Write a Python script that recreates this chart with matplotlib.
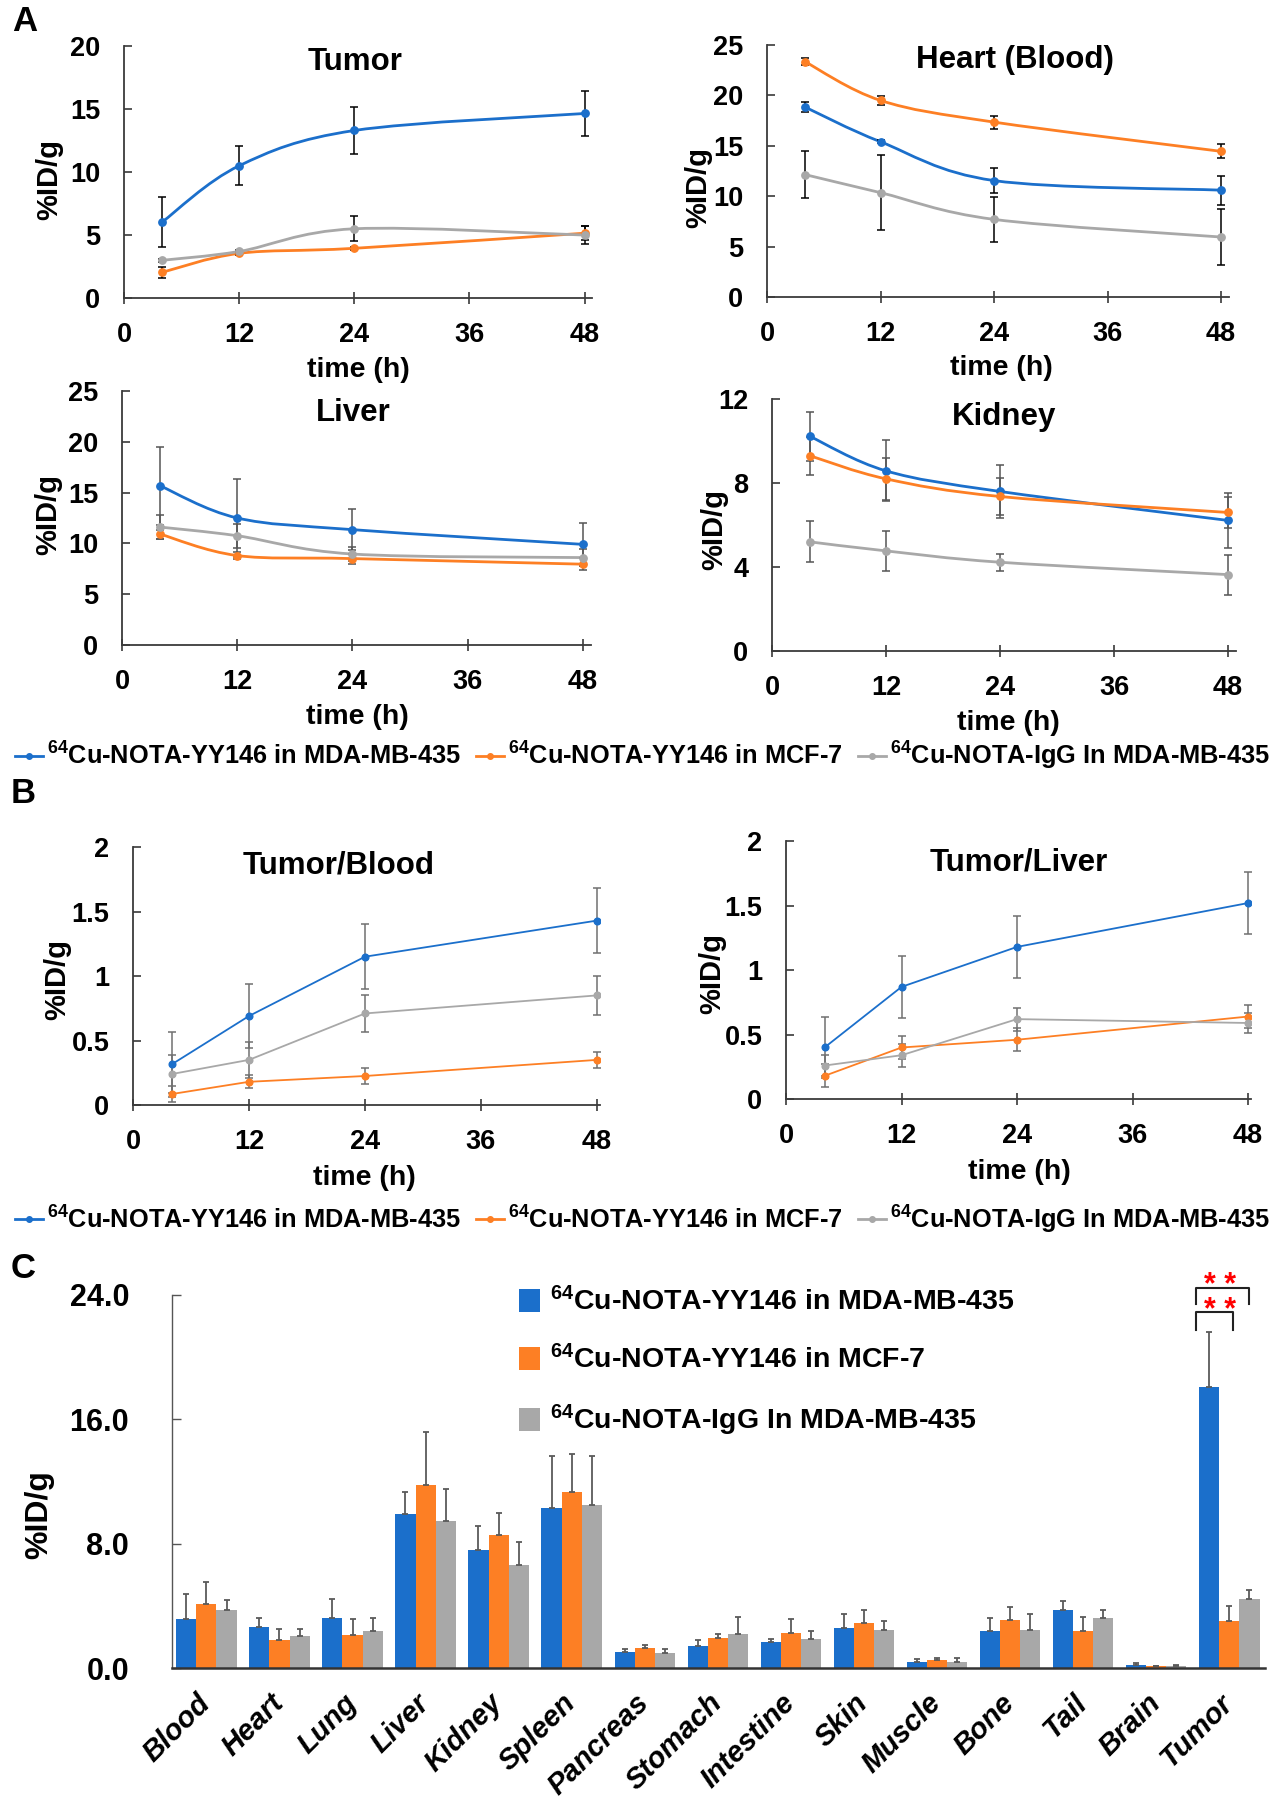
import numpy as np
import matplotlib
matplotlib.use("Agg")
import matplotlib.pyplot as plt
from matplotlib.path import Path
from matplotlib.patches import PathPatch, Patch
from matplotlib.lines import Line2D
from matplotlib.ticker import FormatStrFormatter

plt.rcParams['font.family'] = ['Liberation Sans', 'DejaVu Sans']
plt.rcParams['font.weight'] = 'bold'
plt.rcParams['mathtext.fontset'] = 'custom'
plt.rcParams['mathtext.default'] = 'bf'
plt.rcParams['mathtext.bf'] = 'Liberation Sans:bold'
plt.rcParams['mathtext.rm'] = 'Liberation Sans:bold'

# ---------------- data ----------------
hours = [4, 12, 24, 48]
series_labels = [r'$^{64}$Cu-NOTA-YY146 in MDA-MB-435',
                 r'$^{64}$Cu-NOTA-YY146 in MCF-7',
                 r'$^{64}$Cu-NOTA-IgG In MDA-MB-435']

tumor_blue = [6.05, 10.5, 13.3, 14.65]
tumor_blue_err = [2.0, 1.55, 1.85, 1.8]
tumor_orange = [2.05, 3.55, 3.95, 5.15]
tumor_orange_err = [0.45, 0.12, 0.12, 0.55]
tumor_gray = [3.0, 3.7, 5.5, 5.0]
tumor_gray_err = [0.12, 0.12, 1.0, 0.7]

heart_blue = [18.85, 15.4, 11.55, 10.6]
heart_blue_err = [0.5, 0.15, 1.25, 1.45]
heart_orange = [23.35, 19.5, 17.35, 14.45]
heart_orange_err = [0.35, 0.45, 0.65, 0.7]
heart_gray = [12.15, 10.35, 7.7, 5.95]
heart_gray_err = [2.35, 3.75, 2.25, 2.8]

liver_blue = [15.65, 12.5, 11.35, 9.9]
liver_blue_err = [3.8, 3.8, 2.05, 2.1]
liver_orange = [10.9, 8.8, 8.5, 7.95]
liver_orange_err = [0.45, 0.35, 0.5, 0.6]
liver_gray = [11.6, 10.75, 8.95, 8.6]
liver_gray_err = [1.2, 1.2, 0.7, 0.8]

kidney_blue = [10.22, 8.58, 7.6, 6.22]
kidney_blue_err = [1.15, 1.45, 1.27, 1.3]
kidney_orange = [9.3, 8.2, 7.36, 6.6]
kidney_orange_err = [0.9, 1.0, 0.9, 0.75]
kidney_gray = [5.2, 4.77, 4.23, 3.64]
kidney_gray_err = [0.97, 0.95, 0.4, 0.95]

tb_blue = [0.315, 0.69, 1.15, 1.43]
tb_blue_err = [0.25, 0.25, 0.25, 0.25]
tb_orange = [0.085, 0.18, 0.225, 0.35]
tb_orange_err = [0.06, 0.05, 0.06, 0.06]
tb_gray = [0.24, 0.35, 0.71, 0.85]
tb_gray_err = [0.15, 0.14, 0.14, 0.15]

tl_blue = [0.40, 0.87, 1.18, 1.52]
tl_blue_err = [0.24, 0.24, 0.24, 0.24]
tl_orange = [0.18, 0.40, 0.46, 0.64]
tl_orange_err = [0.09, 0.09, 0.09, 0.09]
tl_gray = [0.26, 0.34, 0.62, 0.59]
tl_gray_err = [0.08, 0.09, 0.09, 0.08]

organs = ['Blood', 'Heart', 'Lung', 'Liver', 'Kidney', 'Spleen', 'Pancreas',
          'Stomach', 'Intestine', 'Skin', 'Muscle', 'Bone', 'Tail', 'Brain', 'Tumor']
bio_blue = [3.17, 2.62, 3.24, 9.9, 7.61, 10.31, 1.05, 1.39, 1.65, 2.59, 0.39, 2.38, 3.71, 0.19, 18.06]
bio_blue_err = [1.61, 0.6, 1.22, 1.41, 1.54, 3.32, 0.2, 0.41, 0.21, 0.9, 0.21, 0.81, 0.6, 0.11, 3.54]
bio_orange = [4.14, 1.78, 2.1, 11.78, 8.55, 11.31, 1.26, 1.91, 2.27, 2.91, 0.51, 3.11, 2.38, 0.11, 3.02]
bio_orange_err = [1.39, 0.75, 1.07, 3.39, 1.43, 2.49, 0.22, 0.28, 0.86, 0.8, 0.11, 0.81, 0.92, 0.05, 0.98]
bio_gray = [3.75, 2.08, 2.4, 9.49, 6.64, 10.5, 1.0, 2.16, 1.84, 2.44, 0.41, 2.46, 3.21, 0.15, 4.44]
bio_gray_err = [0.6, 0.45, 0.81, 2.04, 1.5, 3.17, 0.22, 1.12, 0.54, 0.56, 0.21, 0.99, 0.5, 0.06, 0.57]

tick_0_48 = [0, 12, 24, 36, 48]
ratio_ticks = [0, 0.5, 1, 1.5, 2]
ratio_ticklabels = ['0', '0.5', '1', '1.5', '2']

BLUE = '#1b6fcb'
ORANGE = '#fd7f24'
GRAY = '#a8a8a8'
colors = [BLUE, ORANGE, GRAY]

fig = plt.figure(figsize=(12.85, 18), dpi=100)


def smooth_path(x, y):
    # Excel-style smoothed line: cubic Bezier through the data points
    pts = np.column_stack([x, y]).astype(float)
    n = len(pts)
    verts = [pts[0]]
    codes = [Path.MOVETO]
    for i in range(n - 1):
        p0 = pts[max(i - 1, 0)]
        p1 = pts[i]
        p2 = pts[i + 1]
        p3 = pts[min(i + 2, n - 1)]
        verts += [p1 + (p2 - p0) / 6.0, p2 - (p3 - p1) / 6.0, p2]
        codes += [Path.CURVE4] * 3
    return Path(verts, codes)


def style_time_axis(ax, xmax, ylim, yticks, yticklabels=None):
    ax.set_xlim(0, xmax)
    ax.set_ylim(*ylim)
    ax.set_xticks(tick_0_48)
    ax.set_yticks(yticks)
    if yticklabels is not None:
        ax.set_yticklabels(yticklabels)
    for s in ['top', 'right']:
        ax.spines[s].set_visible(False)
    for s in ['left', 'bottom']:
        ax.spines[s].set_color('#3a3a3a')
        ax.spines[s].set_linewidth(1.3)
    ax.tick_params(axis='y', direction='in', length=6, width=1.2, color='#3a3a3a',
                   pad=17, labelsize=19.5)
    ax.tick_params(axis='x', direction='inout', length=8, width=1.2, color='#3a3a3a',
                   pad=13, labelsize=19.5)


def line_panel(ax, data, smooth, lw, ms, ecolor):
    for (y, e), c in zip(data, colors):
        if smooth:
            ax.add_patch(PathPatch(smooth_path(hours, y), fill=False, edgecolor=c,
                                   lw=lw, zorder=2, capstyle='round'))
        else:
            ax.plot(hours, y, color=c, lw=lw, zorder=2)
        ax.errorbar(hours, y, yerr=e, fmt='o', color=c, ms=ms, ecolor=ecolor,
                    elinewidth=1.1, capsize=3, capthick=1.1, zorder=3)


# ---------------- panel A ----------------
ax1 = fig.add_axes([0.0965, 0.8344, 0.3644, 0.14])
line_panel(ax1, [(tumor_blue, tumor_blue_err), (tumor_orange, tumor_orange_err),
                 (tumor_gray, tumor_gray_err)], True, 2.0, 5.3, 'black')
style_time_axis(ax1, 48.8, (0, 20), [0, 5, 10, 15, 20])

ax2 = fig.add_axes([0.5969, 0.835, 0.3592, 0.14])
line_panel(ax2, [(heart_blue, heart_blue_err), (heart_orange, heart_orange_err),
                 (heart_gray, heart_gray_err)], True, 2.0, 5.3, 'black')
style_time_axis(ax2, 48.8, (0, 25), [0, 5, 10, 15, 20, 25])

ax3 = fig.add_axes([0.0949, 0.6417, 0.3647, 0.1411])
line_panel(ax3, [(liver_blue, liver_blue_err), (liver_orange, liver_orange_err),
                 (liver_gray, liver_gray_err)], True, 2.0, 5.3, '#555555')
style_time_axis(ax3, 48.8, (0, 25), [0, 5, 10, 15, 20, 25])

ax4 = fig.add_axes([0.6008, 0.6383, 0.3608, 0.14])
line_panel(ax4, [(kidney_blue, kidney_blue_err), (kidney_orange, kidney_orange_err),
                 (kidney_gray, kidney_gray_err)], True, 2.0, 5.3, '#555555')
style_time_axis(ax4, 48.8, (0, 12), [0, 4, 8, 12])

# ---------------- panel B ----------------
ax5 = fig.add_axes([0.1035, 0.3861, 0.3633, 0.1433])
line_panel(ax5, [(tb_blue, tb_blue_err), (tb_orange, tb_orange_err),
                 (tb_gray, tb_gray_err)], False, 1.3, 4.8, '#707070')
style_time_axis(ax5, 48.3, (0, 2), ratio_ticks, ratio_ticklabels)

ax6 = fig.add_axes([0.6117, 0.3894, 0.3618, 0.1433])
line_panel(ax6, [(tl_blue, tl_blue_err), (tl_orange, tl_orange_err),
                 (tl_gray, tl_gray_err)], False, 1.3, 4.8, '#707070')
style_time_axis(ax6, 48.3, (0, 2), ratio_ticks, ratio_ticklabels)

titles = [('Tumor', 0.2763, 0.9656), ('Heart (Blood)', 0.790, 0.9667),
          ('Liver', 0.2747, 0.7706), ('Kidney', 0.7815, 0.7683),
          ('Tumor/Blood', 0.2636, 0.5194), ('Tumor/Liver', 0.793, 0.521)]
for t, x, y in titles:
    fig.text(x, y, t, fontsize=22.5, ha='center', va='center', fontweight='bold')

xlabels = [(0.2786, 0.7944), (0.779, 0.7956), (0.278, 0.6017), (0.7845, 0.5983),
           (0.2837, 0.3456), (0.793, 0.3489)]
for x, y in xlabels:
    fig.text(x, y, 'time (h)', fontsize=20.5, ha='center', va='center', fontweight='bold')

ylabels = [(0.0381, 0.90), (0.543, 0.896), (0.0374, 0.714), (0.5556, 0.7056),
           (0.0444, 0.4556), (0.554, 0.4594)]
for x, y in ylabels:
    fig.text(x, y, '%ID/g', fontsize=21, ha='center', va='center', rotation=90,
             fontweight='bold')

for lab, x, y in [('A', 0.0195, 0.988), ('B', 0.0183, 0.559), ('C', 0.018, 0.295)]:
    fig.text(x, y, lab, fontsize=25, ha='center', va='center', fontweight='bold')

line_handles = [Line2D([0], [0], color=c, lw=2, marker='o', ms=4) for c in colors]
for ypos in [0.58, 0.3225]:
    fig.legend(line_handles, series_labels, loc='center', bbox_to_anchor=(0.5, ypos),
               ncol=3, frameon=False, fontsize=18.3, handlelength=1.1, handletextpad=0.15,
               columnspacing=0.6, borderpad=0, borderaxespad=0)

# ---------------- panel C ----------------
axc = fig.add_axes([0.1339, 0.0733, 0.8506, 0.2073])
pos = np.arange(len(organs))
bw = 0.276
for k, (vals, errs, c) in enumerate([(bio_blue, bio_blue_err, BLUE),
                                      (bio_orange, bio_orange_err, ORANGE),
                                      (bio_gray, bio_gray_err, GRAY)]):
    axc.bar(pos + (k - 1) * bw, vals, width=bw, color=c, zorder=2,
            yerr=[np.zeros(len(errs)), errs], ecolor='#5a5a5a',
            error_kw=dict(elinewidth=1.3, capsize=2.5, capthick=1.3))
axc.set_xlim(-0.47, 14.49)
axc.set_ylim(0, 24)
axc.set_yticks([0, 8, 16, 24])
axc.yaxis.set_major_formatter(FormatStrFormatter('%.1f'))
axc.set_xticks(pos)
axc.set_xticklabels(organs, rotation=45, ha='right', va='center', rotation_mode='anchor',
                    fontsize=21, fontstyle='italic', fontweight='bold')
axc.tick_params(axis='x', length=0, pad=22)
axc.tick_params(axis='y', direction='in', length=6.5, width=1.0, color='#555555',
                pad=31, labelsize=22)
for s in ['top', 'right']:
    axc.spines[s].set_visible(False)
axc.spines['left'].set_color('#555555')
axc.spines['left'].set_linewidth(1.0)
axc.spines['bottom'].set_color('#333333')
axc.spines['bottom'].set_linewidth(1.8)

# significance brackets on the tumor group
t = pos[-1]
axc.plot([t - 0.46, t - 0.46, t + 0.05, t + 0.05], [21.75, 22.9, 22.9, 21.75],
         color='#222222', lw=1.5, clip_on=False)
axc.plot([t - 0.46, t - 0.46, t + 0.27, t + 0.27], [23.44, 24.45, 24.45, 23.44],
         color='#222222', lw=1.5, clip_on=False)
axc.text(t - 0.125, 23.75, '* *\n* *', color='red', fontsize=22, ha='center', va='center',
         linespacing=0.78, clip_on=False)

patch_handles = [Patch(facecolor=c, edgecolor='none') for c in colors]
fig.legend(patch_handles, series_labels, loc='upper left', bbox_to_anchor=(0.4039, 0.2848),
           frameon=False, fontsize=20.5, handlelength=0.75, handleheight=0.85,
           handletextpad=0.35, labelspacing=1.0, borderpad=0, borderaxespad=0)

fig.text(0.0304, 0.1583, '%ID/g', fontsize=23, ha='center', va='center', rotation=90,
         fontweight='bold')

fig.savefig('out.png', dpi=100)
